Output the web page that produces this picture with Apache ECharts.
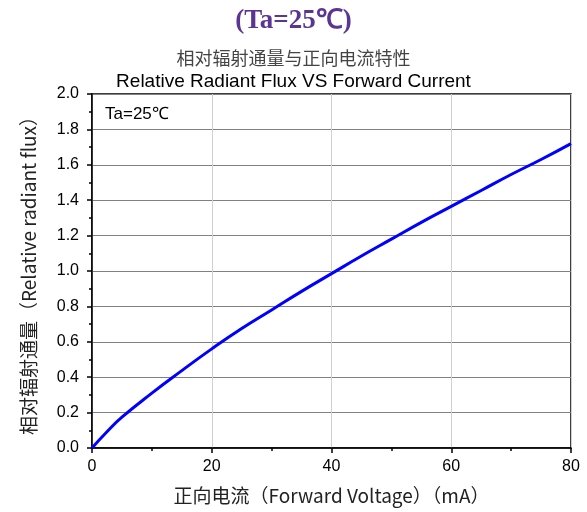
<!DOCTYPE html>
<html>
<head>
<meta charset="utf-8">
<script src="https://cdn.jsdelivr.net/npm/echarts@6/dist/echarts.min.js"></script>
<style>
  html, body { margin: 0; padding: 0; background: #fff; }
  #myChart { width: 587px; height: 512px; }
</style>
</head>
<body>
<div id="myChart"></div>
<script>
// forward current (mA) and relative radiant flux
var current = [0, 2.5, 5, 10, 15, 20, 25, 30, 35, 40, 45, 50, 55, 60, 65, 70, 75, 80]
var flux = [0, 0.092, 0.174, 0.31, 0.437, 0.56, 0.675, 0.78, 0.885, 0.985, 1.085, 1.18, 1.275, 1.365, 1.455, 1.545, 1.63, 1.72]

var points = []
for (var i = 0; i < current.length; i++) {
  points.push([current[i], flux[i]])
}

var myChart = echarts.init(document.getElementById('myChart'))
myChart.setOption({
  animation: false,
  backgroundColor: '#fff',
  title: [
    {
      text: '(Ta=25℃)',
      left: 'center',
      top: 3,
      textStyle: { fontFamily: 'Liberation Serif', fontWeight: 'bold', fontSize: 27, color: '#5b3592' }
    },
    {
      text: '相对辐射通量与正向电流特性',
      left: 'center',
      top: 44,
      textStyle: { fontFamily: 'Noto Sans CJK SC', fontWeight: 'normal', fontSize: 18, color: '#444' }
    },
    {
      text: 'Relative Radiant Flux VS Forward Current',
      left: 'center',
      top: 67,
      textStyle: { fontFamily: 'Liberation Sans', fontWeight: 'normal', fontSize: 19, color: '#000' }
    },
    {
      text: 'Ta=25℃',
      left: 100,
      top: 101,
      textStyle: { fontFamily: 'Liberation Sans', fontWeight: 'normal', fontSize: 17, color: '#000' }
    }
  ],
  grid: {
    left: 92,
    right: 16,
    top: 94,
    bottom: 64,
    show: true,
    borderColor: '#000',
    borderWidth: 1.5
  },
  xAxis: {
    type: 'value',
    min: 0,
    max: 80,
    interval: 20,
    name: '正向电流（Forward Voltage）（mA）',
    nameLocation: 'middle',
    nameGap: 38,
    nameTextStyle: { fontFamily: 'Noto Sans CJK SC', fontSize: 19, color: '#222' },
    axisLine: { lineStyle: { color: '#000', width: 1.5 } },
    axisTick: { inside: false, length: 5, lineStyle: { color: '#000', width: 1.5 } },
    minorTick: { show: true, splitNumber: 2, length: 3, lineStyle: { color: '#000', width: 1.5 } },
    axisLabel: { fontFamily: 'Liberation Sans', fontSize: 16, color: '#000', margin: 11 },
    splitLine: { show: true, lineStyle: { color: '#d0d0d0', width: 1 } }
  },
  yAxis: {
    type: 'value',
    min: 0,
    max: 2,
    interval: 0.2,
    name: '相对辐射通量（Relative radiant flux）',
    nameLocation: 'middle',
    nameGap: 54,
    nameTextStyle: { fontFamily: 'Noto Sans CJK SC', fontSize: 19, color: '#222' },
    axisLine: { lineStyle: { color: '#000', width: 1.5 } },
    axisTick: { inside: false, length: 5, lineStyle: { color: '#000', width: 1.5 } },
    minorTick: { show: true, splitNumber: 2, length: 3, lineStyle: { color: '#000', width: 1.5 } },
    axisLabel: {
      fontFamily: 'Liberation Sans', fontSize: 16, color: '#000', margin: 13,
      formatter: function (v) { return v.toFixed(1) }
    },
    splitLine: { show: true, lineStyle: { color: '#808080', width: 1 } }
  },
  series: [
    {
      type: 'line',
      data: points,
      smooth: true,
      showSymbol: false,
      lineStyle: { color: '#0000ff', width: 3 }
    }
  ]
})
</script>
</body>
</html>
